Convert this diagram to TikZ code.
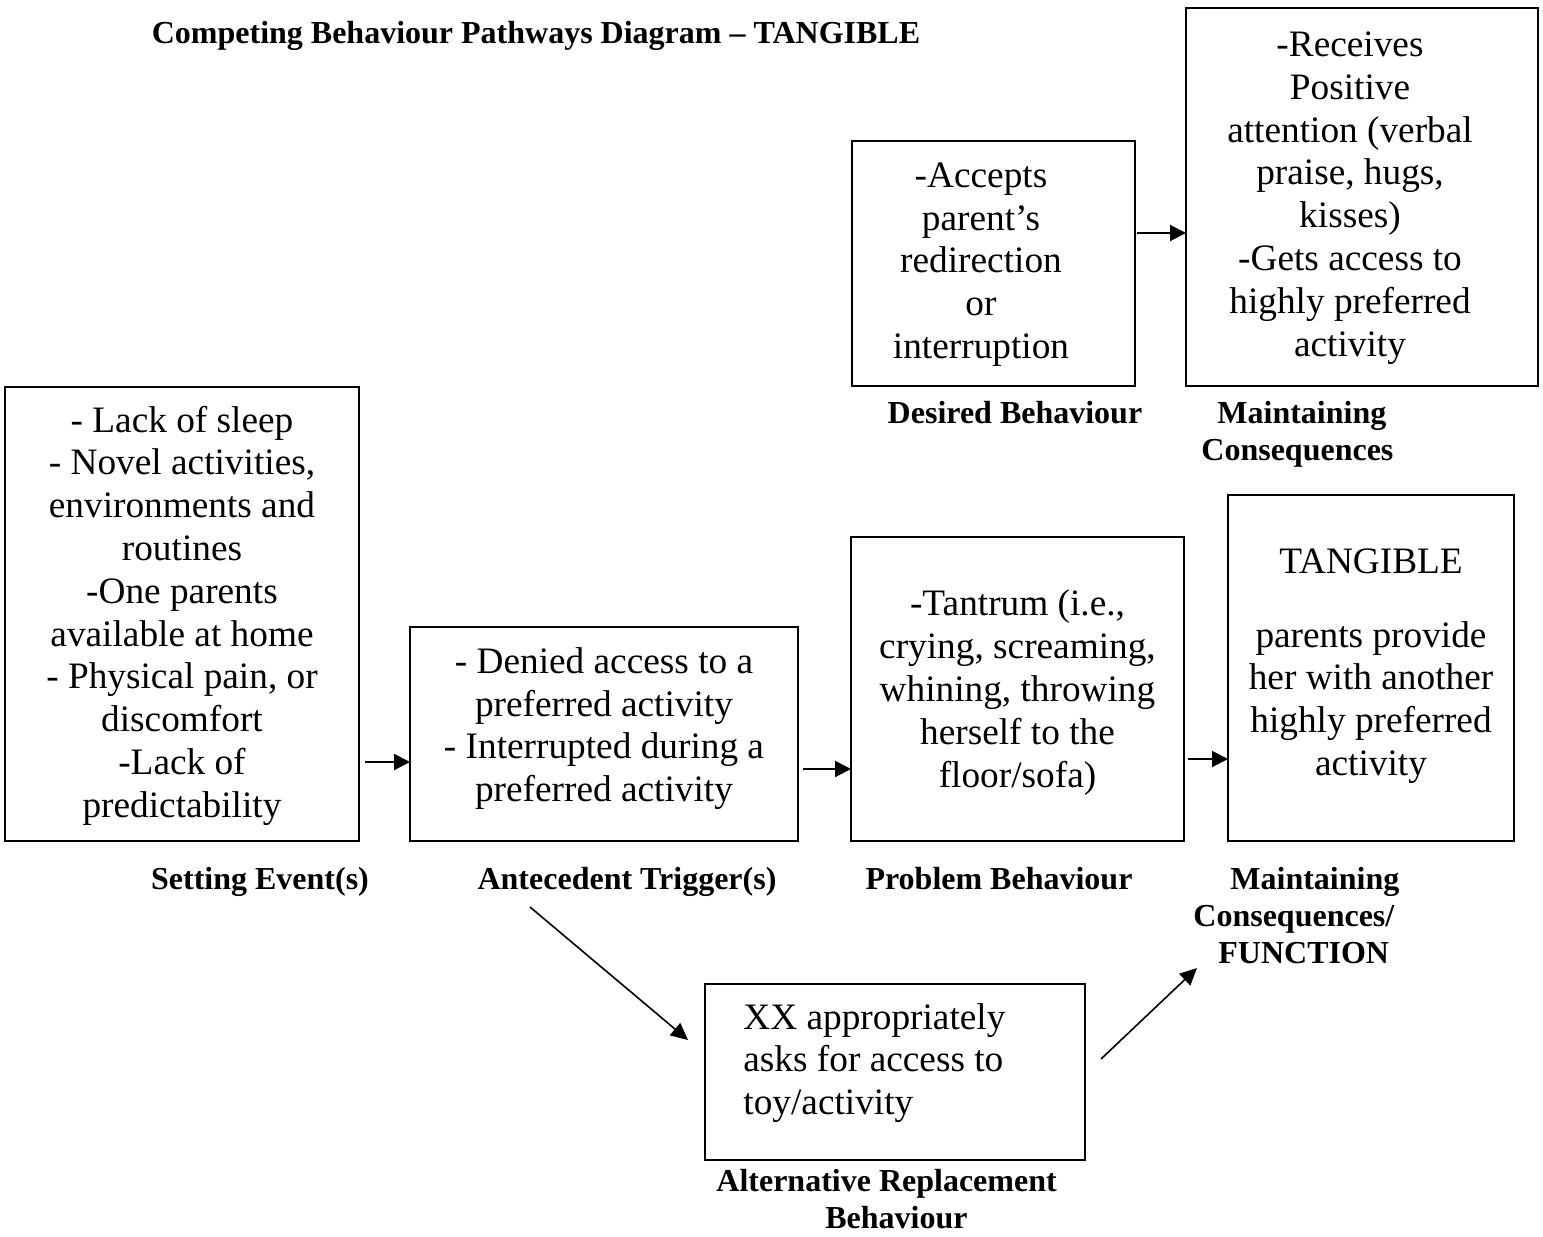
\documentclass[tikz,border=0pt]{standalone}
\usepackage{fontspec}
\setmainfont{Liberation Serif}
\usetikzlibrary{arrows.meta}
\begin{document}
\begin{tikzpicture}[x=0.5pt,y=-0.5pt,
  box/.style={draw,line width=1pt,inner sep=0pt,outer sep=0pt},
  body/.style={font=\fontsize{18.65pt}{21.4pt}\selectfont,align=center,inner sep=0pt},
  lab/.style={font=\fontsize{16pt}{18.5pt}\selectfont\bfseries,inner sep=0pt},
  arr/.style={-{Triangle[length=8pt,width=8pt]},line width=1pt},
  diag/.style={-{Triangle[length=8.5pt,width=8pt]},line width=0.8pt}]
\useasboundingbox (0,0) rectangle (1543,1237);

% title
\node[lab] (title) at (536,36) {Competing Behaviour Pathways Diagram -- TANGIBLE};

% boxes
\node[box,minimum width=177pt,minimum height=227pt] (se) at (182,614) {};
\node[box,minimum width=194pt,minimum height=107pt] (at) at (604,734) {};
\node[box,minimum width=166.5pt,minimum height=152pt] (pb) at (1017.5,689) {};
\node[box,minimum width=143pt,minimum height=173pt] (mc) at (1371,668) {};
\node[box,minimum width=141.5pt,minimum height=122.5pt] (db) at (993.5,263.5) {};
\node[box,minimum width=176pt,minimum height=189pt] (mt) at (1362,197) {};
\node[box,minimum width=190pt,minimum height=88pt] (ar) at (895,1072) {};

% box texts
\node[body] (setxt) at (182,615.5) {- Lack of sleep\\- Novel activities,\\environments and\\routines\\-One parents\\available at home\\- Physical pain, or\\discomfort\\-Lack of\\predictability};
\node[body] (attxt) at (604,728.5) {- Denied access to a\\preferred activity\\- Interrupted during a\\preferred activity};
\node[body] (pbtxt) at (1017.5,692.5) {-Tantrum (i.e.,\\crying, screaming,\\whining, throwing\\herself to the\\floor/sofa)};
\node[body] (mctxt) at (1371,666) {TANGIBLE\\[15.5pt]parents provide\\her with another\\highly preferred\\activity};
\node[body] (dbtxt) at (981,264.5) {-Accepts\\parent’s\\redirection\\or\\interruption};
\node[body] (mttxt) at (1350,198) {-Receives\\Positive\\attention (verbal\\praise, hugs,\\kisses)\\-Gets access to\\highly preferred\\activity};
\node[body,align=left,anchor=west] (artxt) at (743,1063) {XX appropriately\\asks for access to\\toy/activity};

% box labels
\node[lab] (dblab) at (1015,413) {Desired Behaviour};
\node[lab,align=left,anchor=west] (mtlab) at (1201,434.5) {\hspace*{8pt}Maintaining\\Consequences};
\node[lab] (selab) at (260,882) {Setting Event(s)};
\node[lab] (atlab) at (627,882) {Antecedent Trigger(s)};
\node[lab] (pblab) at (999,879) {Problem Behaviour};
\node[lab,align=left,anchor=west] (mclab) at (1193,915.5) {\hspace*{18.5pt}Maintaining\\Consequences/\\\hspace*{12.5pt}FUNCTION};
\node[lab,align=left,anchor=west] (arlab) at (716,1199) {Alternative Replacement\\\hspace*{54.5pt}Behaviour};

% connectors
\draw[arr,shorten <=3pt] (se.east |- 0,762) -- (at.west |- 0,762);
\draw[arr,shorten <=2.5pt] (at.east |- 0,769) -- (pb.west |- 0,769);
\draw[arr,shorten <=2pt] (pb.east |- 0,759) -- (mc.west |- 0,759);
\draw[arr,shorten <=1pt] (db.east |- 0,233) -- (mt.west |- 0,233);

\coordinate (d1s) at (530,907);
\coordinate (d1e) at (688,1040);
\coordinate (d2s) at (1101,1059);
\coordinate (d2e) at (1197,968);
\draw[diag] (d1s) -- (d1e);
\draw[diag] (d2s) -- (d2e);
\end{tikzpicture}
\end{document}
